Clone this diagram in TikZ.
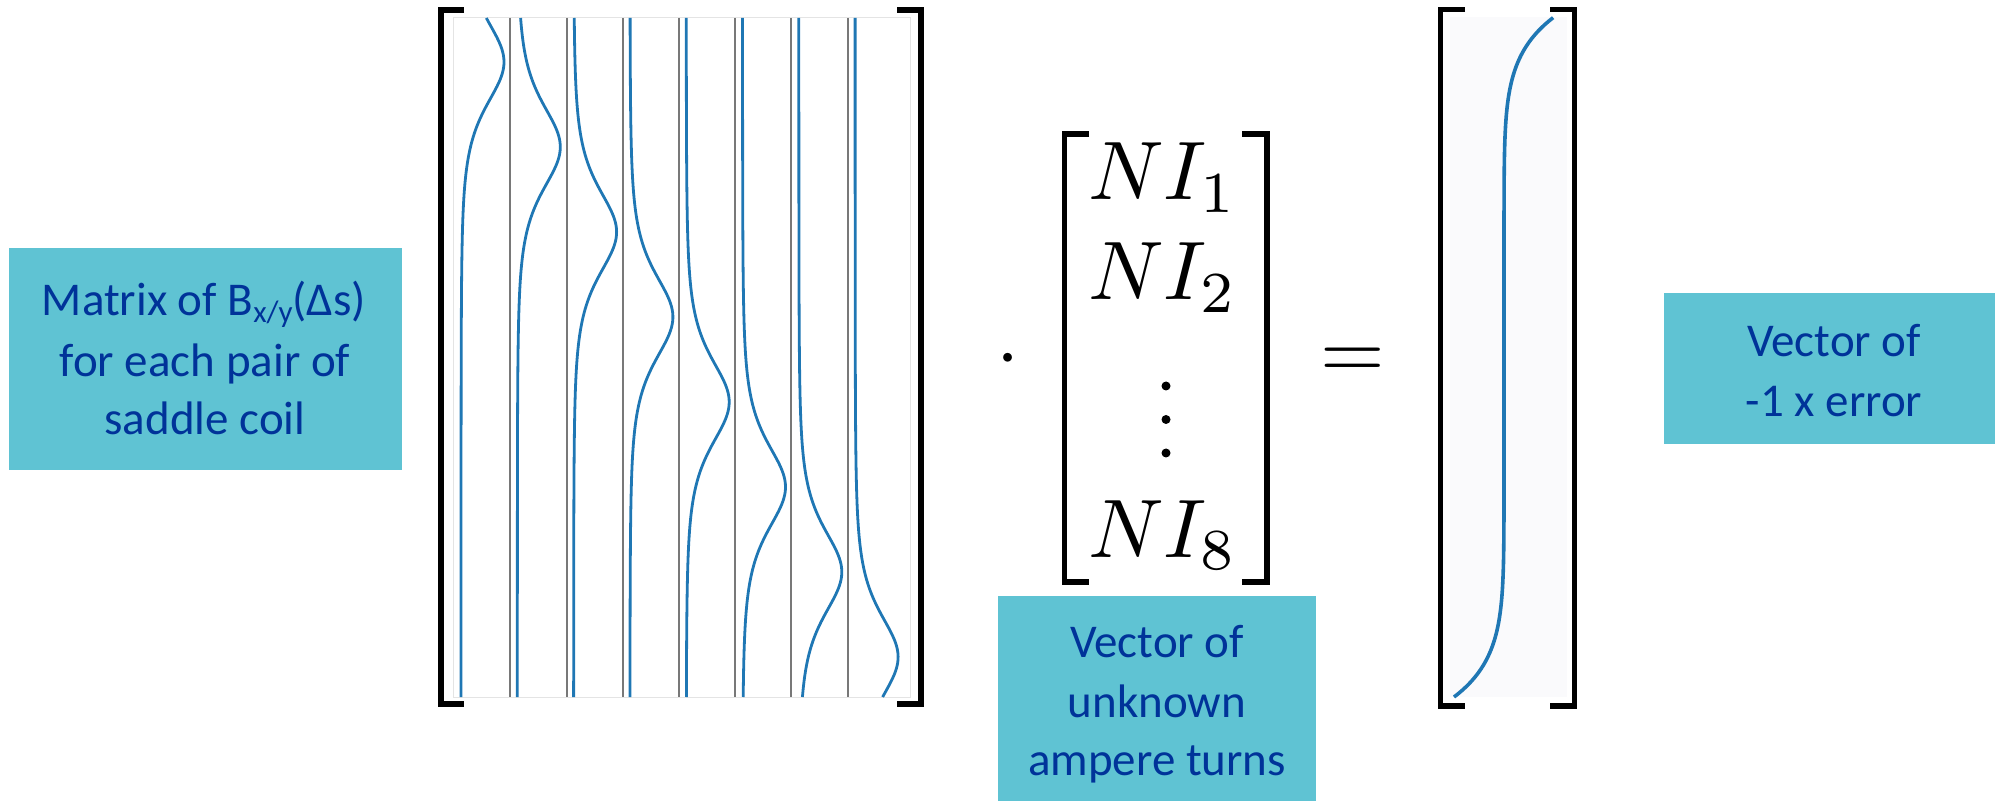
\documentclass[tikz,border=0pt]{standalone}
\usepackage{graphicx}
\usepackage[no-math]{fontspec}
\setmainfont{Carlito}
\definecolor{boxfill}{RGB}{95,195,211}
\definecolor{textblue}{RGB}{0,51,153}
\definecolor{mplblue}{RGB}{31,119,180}
\definecolor{sepgray}{RGB}{120,120,120}
\definecolor{framegray}{RGB}{228,228,228}
\definecolor{vecbg}{RGB}{250,250,252}
\newcommand{\bigmath}[1]{\scalebox{4.15}{$#1$}}
\begin{document}
\begin{tikzpicture}[x=0.5pt,y=-0.5pt,
  labelbox/.style={fill=boxfill, draw=none, inner sep=0pt},
  lbl/.style={text=textblue, font=\fontsize{23.5}{30}\selectfont, inner sep=0pt, anchor=base},
  bigbracket/.style={line width=3pt, line cap=butt, line join=miter},
  smallbracket/.style={line width=2.6pt, line cap=butt, line join=miter},
  sepline/.style={draw=sepgray, line width=1pt},
  curve/.style={draw=mplblue, line width=1.4pt, line join=round},
  mathtext/.style={inner sep=0pt, font=\fontsize{10}{12}\selectfont, anchor=base},
  dotmark/.style={fill=black, draw=none}]
\useasboundingbox (0,0) rectangle (1995,801);

% ---------- left label ----------
\node[labelbox, minimum width=196.5pt, minimum height=111pt] (matbox) at (205.5,359) {};
\node[lbl] (mat1) at (204,316) {Matrix of B{\fontsize{15.5}{15.5}\selectfont\raisebox{-3.5pt}{x/y}}(Δs)};
\node[lbl] (mat2) at (205,377) {for each pair of};
\node[lbl] (mat3) at (205,435) {saddle coil};

% ---------- matrix plot ----------
\draw[draw=framegray, line width=0.5pt] (453,18) rectangle (910,697);
\foreach \xs in {510,566.5,623,679,735,791,847.5}
  \draw[sepline] (\xs,18) -- (\xs,697);
\foreach \i in {0,...,7}{
  \pgfmathsetmacro{\base}{461+56.3*\i}
  \pgfmathsetmacro{\peak}{62+85*\i}
  \draw[curve] plot[domain=18:697, samples=220, variable=\t]
    ({\base+43/((1+((\t-\peak)/80)^2)^2)}, \t);
}
\coordinate (mTL) at (464,10);
\coordinate (mBL) at (464,704);
\coordinate (mTR) at (897,10);
\coordinate (mBR) at (897,704);
\draw[bigbracket] (mTL) -- (441,10) -- (441,704) -- (mBL);
\draw[bigbracket] (mTR) -- (921,10) -- (921,704) -- (mBR);

% ---------- dot ----------
\node[mathtext] (dotop) at (1008,379) {\bigmath{\cdot}};

% ---------- NI vector ----------
\draw[smallbracket] (1089,134) -- (1064.5,134) -- (1064.5,582) -- (1089,582);
\draw[smallbracket] (1242,134) -- (1267,134) -- (1267,582) -- (1242,582);
\node[mathtext] (ni1) at (1163,200) {\bigmath{NI_1}};
\node[mathtext] (ni2) at (1163,300) {\bigmath{NI_2}};
\node[mathtext] (ni8) at (1163,557) {\bigmath{NI_8}};
\fill[dotmark] (1166,386) circle (4.5);
\fill[dotmark] (1166,419.5) circle (4.5);
\fill[dotmark] (1166,453) circle (4.5);

% ---------- equals ----------
\node[mathtext] (eqop) at (1353,379) {\bigmath{=}};

% ---------- result vector ----------
\fill[vecbg] (1450,17) rectangle (1567,697);
\draw[draw=mplblue, line width=1.8pt] plot[domain=-1:1, samples=200, variable=\t]
  ({1504+50*\t*\t*\t*\t*\t*\t*\t*\t*\t}, {357-340*\t});
\draw[smallbracket, line width=2.8pt] (1465,9.5) -- (1440.5,9.5) -- (1440.5,706) -- (1465,706);
\draw[smallbracket, line width=2.8pt] (1550,9.5) -- (1574.5,9.5) -- (1574.5,706) -- (1550,706);

% ---------- middle label ----------
\node[labelbox, minimum width=159pt, minimum height=102.5pt] (vecbox) at (1157,698.5) {};
\node[lbl] (vec1) at (1157,657) {Vector of};
\node[lbl] (vec2) at (1157,717) {unknown};
\node[lbl] (vec3) at (1157,775) {ampere turns};

% ---------- right label ----------
\node[labelbox, minimum width=165.5pt, minimum height=75.5pt] (errbox) at (1829.5,368.5) {};
\node[lbl] (err1) at (1834,357) {Vector of};
\node[lbl] (err2) at (1834,417) {-1 x error};
\end{tikzpicture}
\end{document}
